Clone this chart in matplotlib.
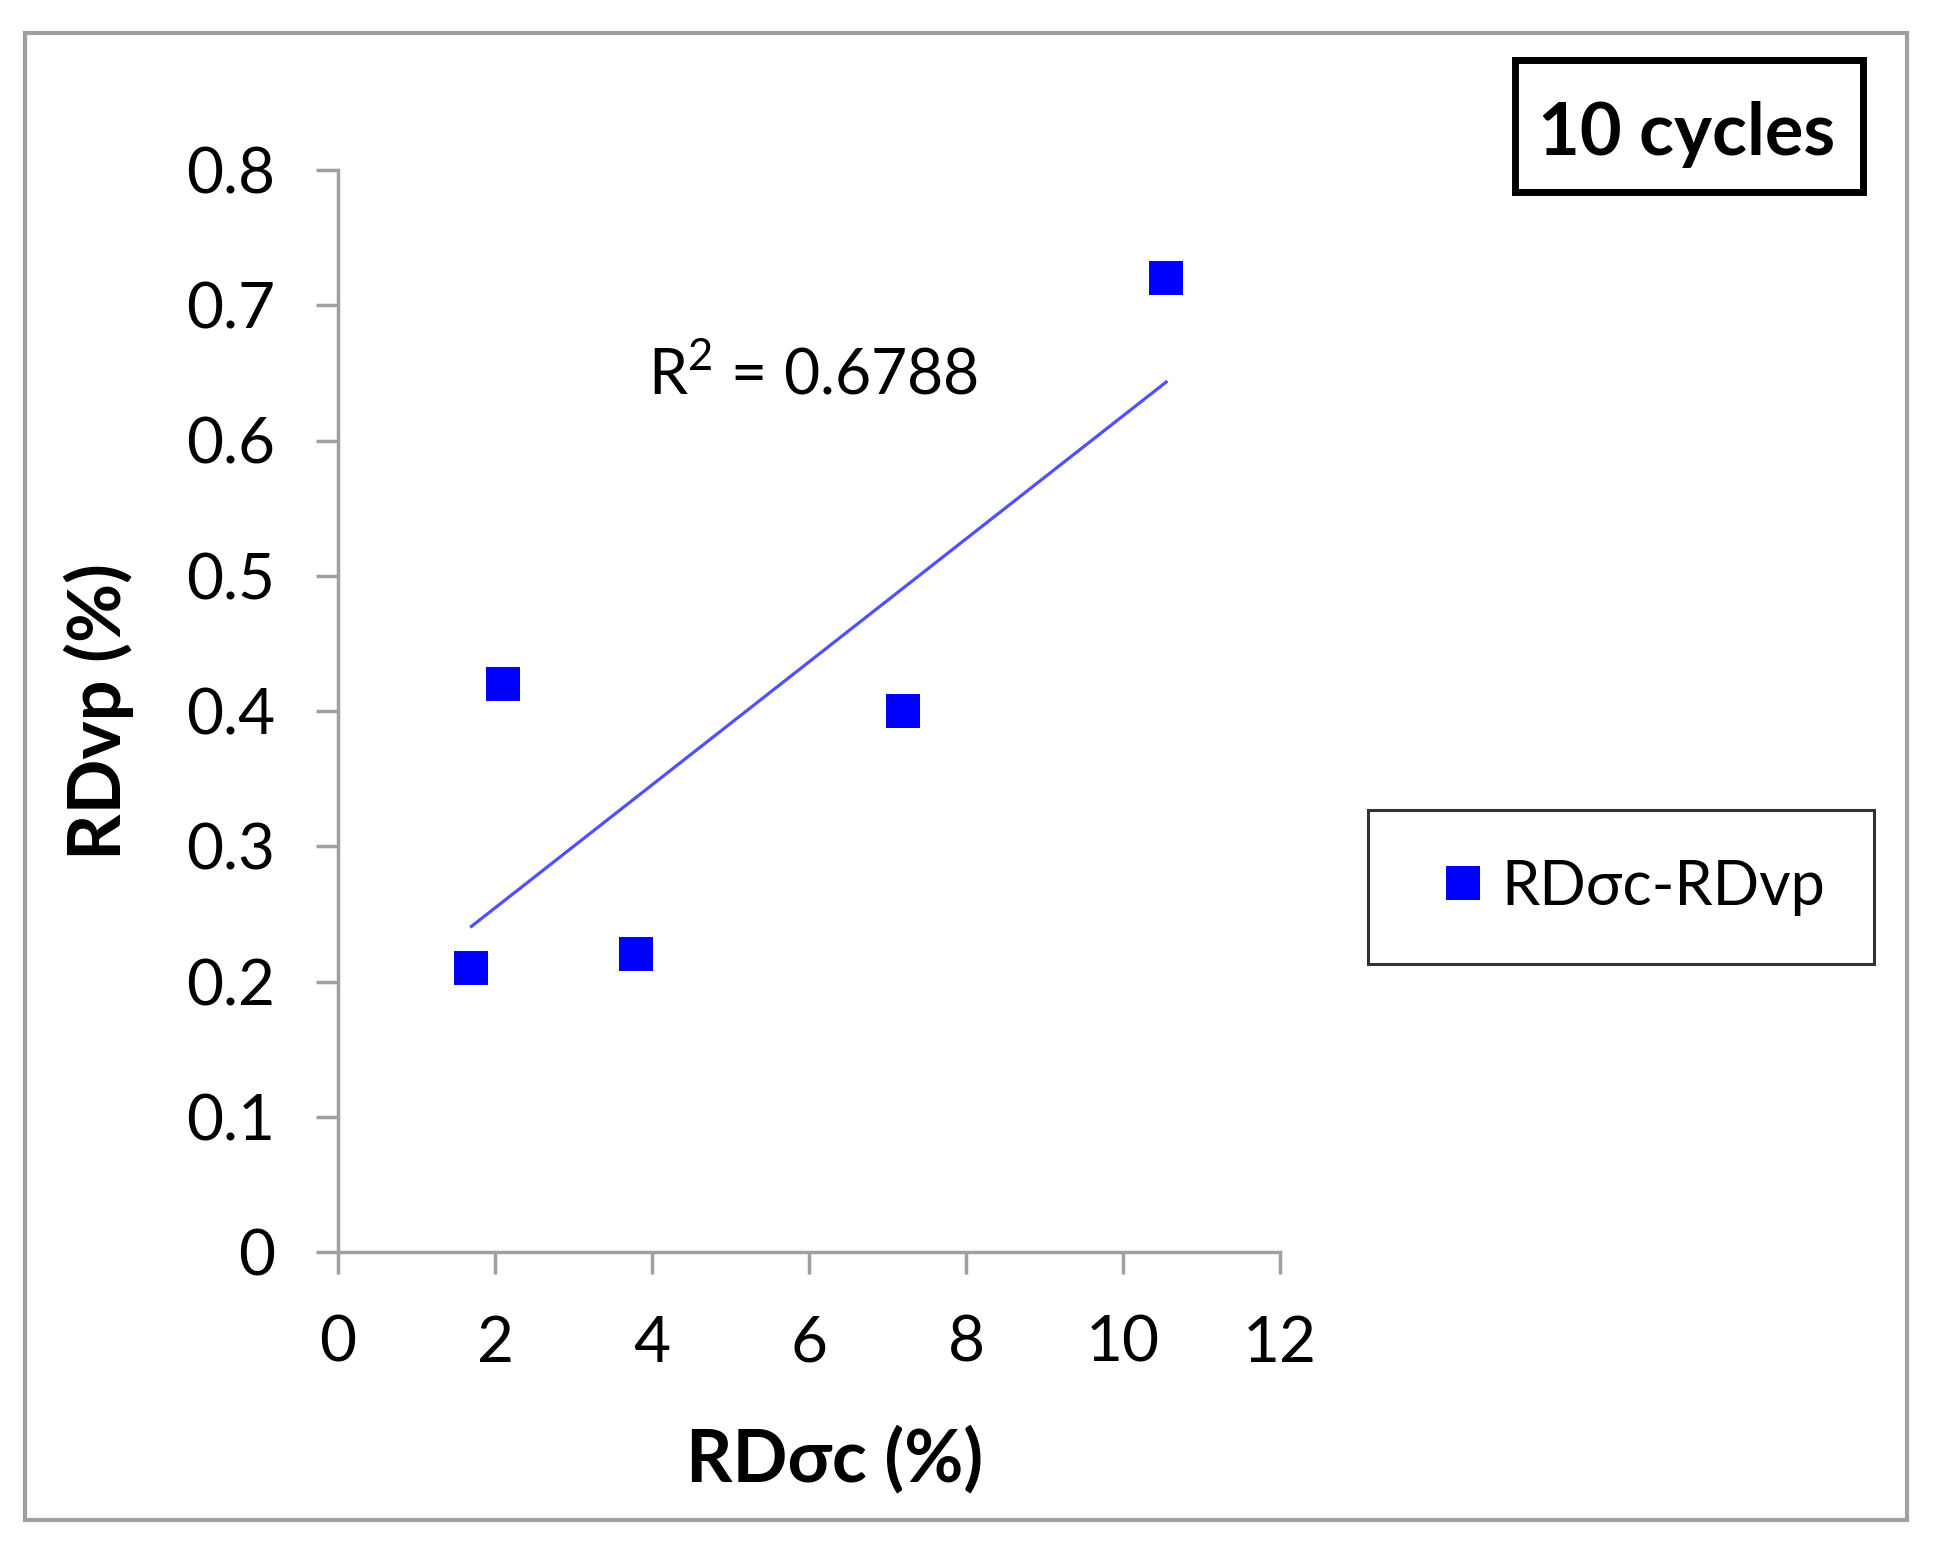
import numpy as np
import matplotlib
matplotlib.use('Agg')
import matplotlib.pyplot as plt
from matplotlib.patches import Rectangle

plt.rcParams['font.family'] = ['Lato', 'DejaVu Sans']
plt.rcParams['mathtext.fontset'] = 'custom'
plt.rcParams['mathtext.rm'] = 'Lato'

# data
rd_sigma_c = [1.7, 2.1, 3.8, 7.2, 10.55]
rd_vp = [0.21, 0.42, 0.22, 0.40, 0.72]
r2_text = r'R$^{\mathrm{2}}$ = 0.6788'
series_name = 'RDσc-RDvp'
x_ticks = [0, 2, 4, 6, 8, 10, 12]
y_ticks = [0, 0.1, 0.2, 0.3, 0.4, 0.5, 0.6, 0.7, 0.8]

W, H = 1942, 1560
fig = plt.figure(figsize=(W / 100, H / 100), dpi=100, facecolor='white')

def fx(px):
    return px / W

def fy(py):
    return 1 - py / H

# outer gray frame
fig.patches.append(Rectangle((fx(25), fy(1520)), fx(1907) - fx(25), fy(33) - fy(1520),
                             transform=fig.transFigure, fill=False,
                             ec='#a0a0a0', lw=3))

ax = fig.add_axes([fx(338), fy(1252), fx(1280) - fx(338), fy(170) - fy(1252)])
ax.set_xlim(0, 12)
ax.set_ylim(0, 0.8)

GRAY = '#a0a0a0'
for s in ('top', 'right'):
    ax.spines[s].set_visible(False)
for s in ('left', 'bottom'):
    ax.spines[s].set_color(GRAY)
    ax.spines[s].set_linewidth(2.5)

ax.set_xticks(x_ticks)
ax.set_xticklabels([str(v) for v in x_ticks])
ax.set_yticks(y_ticks)
ax.set_yticklabels(['0'] + [f'{v:.1f}' for v in y_ticks[1:]])
ax.tick_params(axis='both', direction='out', length=16, width=2.5, color=GRAY,
               labelsize=46, pad=29, labelcolor='black')

# trendline
k, b = np.polyfit(rd_sigma_c, rd_vp, 1)
xs = np.array([min(rd_sigma_c), max(rd_sigma_c)])
ax.plot(xs, k * xs + b, color='#5050ff', lw=2.3)

ax.plot(rd_sigma_c, rd_vp, 's', color='#0000ff', ms=24, mew=0,
        label=series_name, clip_on=False, zorder=3)

ax.text(3.95, 0.634, r2_text, fontsize=45, ha='left', va='baseline')

ax.set_xlabel('RDσc (%)', fontsize=52, fontweight='bold')
ax.set_ylabel('RDvp (%)', fontsize=52, fontweight='bold')
ax.xaxis.label.set_va('baseline')
ax.yaxis.label.set_va('baseline')
ax.xaxis.set_label_coords(fx(835), fy(1481), transform=fig.transFigure)
ax.yaxis.set_label_coords(fx(121), fy(712), transform=fig.transFigure)

# "10 cycles" box
fig.patches.append(Rectangle((fx(1515), fy(192)), fx(1863) - fx(1515), fy(60) - fy(192),
                             transform=fig.transFigure, fill=False, ec='black', lw=5))
fig.text(fx(1687), fy(155), '10 cycles', fontsize=52, fontweight='bold',
         ha='center', va='baseline')

# legend
leg = ax.legend(loc='center', bbox_to_anchor=(fx(1621), fy(887)),
                bbox_transform=fig.transFigure, fontsize=44, frameon=True,
                fancybox=False, borderpad=0.8, handlelength=1.5,
                handletextpad=-0.12, markerscale=1.0)
leg.get_frame().set_edgecolor('black')
leg.get_frame().set_linewidth(2.2)

fig.savefig('out.png', dpi=100, facecolor='white')
